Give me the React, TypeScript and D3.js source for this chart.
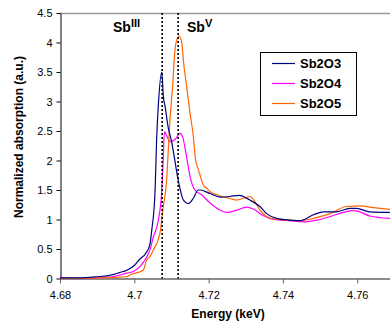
import React, { useEffect, useRef } from 'react';
import * as d3 from 'd3';

// energy (keV) / normalized absorption
const sb2o3E = [4.68, 4.685, 4.69, 4.693, 4.696, 4.698, 4.7, 4.7015, 4.703, 4.7042, 4.7047, 4.7056, 4.706, 4.7065, 4.7074, 4.7078, 4.7083, 4.7091, 4.7101, 4.7106, 4.7118, 4.7132, 4.7145, 4.7159, 4.7172, 4.7177, 4.7204, 4.7231, 4.7257, 4.7282, 4.7311, 4.7338, 4.7356, 4.7383, 4.7419, 4.7446, 4.7482, 4.7509, 4.7545, 4.758, 4.7598, 4.7634, 4.7688];
const sb2o3Y = [0.01, 0.01, 0.03, 0.05, 0.1, 0.14, 0.22, 0.33, 0.42, 0.58, 0.82, 1.5, 2.35, 2.97, 3.5, 3.1, 2.91, 2.57, 2.3, 2.12, 1.67, 1.33, 1.27, 1.36, 1.5, 1.5, 1.44, 1.38, 1.39, 1.41, 1.33, 1.22, 1.1, 1.02, 0.99, 0.98, 1.08, 1.13, 1.13, 1.19, 1.19, 1.13, 1.12];

const sb2o4E = [4.68, 4.6805, 4.685, 4.69, 4.694, 4.6979, 4.6997, 4.7015, 4.7033, 4.7042, 4.7051, 4.7065, 4.7074, 4.7078, 4.7081, 4.7087, 4.7096, 4.711, 4.7123, 4.713, 4.7136, 4.7145, 4.715, 4.7163, 4.7181, 4.7204, 4.7231, 4.7249, 4.7276, 4.7302, 4.7325, 4.7343, 4.7365, 4.7392, 4.7419, 4.7455, 4.7491, 4.7527, 4.7562, 4.7589, 4.7607, 4.7634, 4.7688];
const sb2o4Y = [0.03, 0.01, 0.0, 0.01, 0.03, 0.09, 0.12, 0.2, 0.36, 0.48, 0.7, 1.0, 1.5, 2.06, 2.49, 2.42, 2.32, 2.36, 2.46, 2.4, 2.23, 1.9, 1.73, 1.5, 1.42, 1.28, 1.16, 1.12, 1.16, 1.21, 1.16, 1.08, 1.02, 0.99, 0.98, 0.96, 0.99, 1.05, 1.12, 1.15, 1.13, 1.06, 1.02];

const sb2o5E = [4.68, 4.69, 4.695, 4.6979, 4.6988, 4.7024, 4.7033, 4.7042, 4.7051, 4.7069, 4.7078, 4.7087, 4.7091, 4.7096, 4.7103, 4.7109, 4.7114, 4.7121, 4.7128, 4.7132, 4.7141, 4.715, 4.7159, 4.7164, 4.7172, 4.7177, 4.7186, 4.7195, 4.7204, 4.7222, 4.7249, 4.7276, 4.7311, 4.7325, 4.7338, 4.7356, 4.7383, 4.7419, 4.7446, 4.7482, 4.7527, 4.7571, 4.7607, 4.7643, 4.7688];
const sb2o5Y = [0.0, 0.01, 0.02, 0.03, 0.06, 0.14, 0.31, 0.37, 0.48, 0.77, 1.22, 1.67, 2.12, 2.69, 3.25, 3.84, 4.04, 4.11, 3.99, 3.7, 3.25, 2.8, 2.4, 2.05, 1.85, 1.75, 1.58, 1.53, 1.47, 1.42, 1.37, 1.33, 1.39, 1.3, 1.16, 1.05, 1.0, 0.99, 0.98, 1.02, 1.1, 1.22, 1.23, 1.2, 1.17];

const seriesNames = ['Sb2O3', 'Sb2O4', 'Sb2O5'];
const seriesColors = ['#000080', '#FF00FF', '#FF6600'];
const xTicks = [4.68, 4.7, 4.72, 4.74, 4.76];
const yTicks = [0, 0.5, 1, 1.5, 2, 2.5, 3, 3.5, 4, 4.5];
const edgeLines = [4.7075, 4.7118]; // Sb(III) and Sb(V) edge markers

function App() {
  const svgRef = useRef(null);

  useEffect(() => {
    const svg = d3.select(svgRef.current);
    svg.selectAll('*').remove();
    const font = 'Liberation Sans, Arial, sans-serif';

    const x = d3.scaleLinear().domain([4.68, 4.77]).range([60, 394.4]);
    const y = d3.scaleLinear().domain([0, 4.5]).range([278.5, 13]);

    svg.append('defs').append('clipPath').attr('id', 'plotclip')
      .append('rect').attr('x', 60).attr('y', 0).attr('width', 340).attr('height', 279);

    // top border of plot area
    svg.append('line')
      .attr('x1', 60).attr('x2', 390).attr('y1', 13.5).attr('y2', 13.5)
      .attr('stroke', '#999').attr('stroke-width', 1.5);

    // x axis
    const xAxis = svg.append('g')
      .attr('transform', 'translate(0,278.5)')
      .call(d3.axisBottom(x).tickValues(xTicks).tickSize(5).tickSizeOuter(0).tickFormat(d => String(+d)));
    xAxis.select('.domain').attr('stroke', '#666').attr('stroke-width', 1.5);
    xAxis.selectAll('.tick line').attr('stroke', '#666');
    xAxis.selectAll('text').attr('font-family', font).attr('font-size', 11).attr('fill', '#000').attr('dy', '1.1em');

    // y axis
    const yAxis = svg.append('g')
      .attr('transform', 'translate(60.5,0)')
      .call(d3.axisLeft(y).tickValues(yTicks).tickSize(4).tickSizeOuter(0).tickFormat(d => String(+d)));
    yAxis.select('.domain').attr('stroke', '#000').attr('stroke-width', 1);
    yAxis.selectAll('.tick line').attr('stroke', '#000');
    yAxis.selectAll('text').attr('font-family', font).attr('font-size', 11).attr('fill', '#000').attr('x', -8);

    const g = svg.append('g').attr('clip-path', 'url(#plotclip)');

    const sets = [
      sb2o3E.map((e, i) => [e, sb2o3Y[i]]),
      sb2o4E.map((e, i) => [e, sb2o4Y[i]]),
      sb2o5E.map((e, i) => [e, sb2o5Y[i]]),
    ];
    const line = d3.line().x(d => x(d[0])).y(d => y(d[1])).curve(d3.curveMonotoneX);

    [1, 2, 0].forEach(i => {
      g.append('path')
        .attr('d', line(sets[i]))
        .attr('fill', 'none')
        .attr('stroke', seriesColors[i])
        .attr('stroke-width', 1.2);
    });

    // dotted edge markers
    edgeLines.forEach(e => {
      svg.append('line')
        .attr('x1', x(e)).attr('x2', x(e))
        .attr('y1', y(4.5)).attr('y2', y(0))
        .attr('stroke', '#000').attr('stroke-width', 1.6)
        .attr('stroke-dasharray', '2,2');
    });

    // Sb labels
    const lab1 = svg.append('text').attr('x', 113).attr('y', 32)
      .attr('font-family', font).attr('font-weight', 'bold').attr('font-size', 14);
    lab1.append('tspan').text('Sb');
    lab1.append('tspan').attr('dy', -5).attr('font-size', 11).text('III');
    const lab2 = svg.append('text').attr('x', 187).attr('y', 32)
      .attr('font-family', font).attr('font-weight', 'bold').attr('font-size', 14);
    lab2.append('tspan').text('Sb');
    lab2.append('tspan').attr('dy', -5).attr('font-size', 11).text('V');

    // legend
    const lg = svg.append('g').attr('transform', 'translate(260,52)');
    lg.append('rect').attr('x', 0.5).attr('y', 0.5).attr('width', 96).attr('height', 63)
      .attr('fill', '#fff').attr('stroke', '#000').attr('stroke-width', 1);
    seriesNames.forEach((name, i) => {
      const yy = 11.5 + i * 20;
      lg.append('line').attr('x1', 12).attr('x2', 35).attr('y1', yy).attr('y2', yy)
        .attr('stroke', seriesColors[i]).attr('stroke-width', 1.2);
      lg.append('text').attr('x', 40).attr('y', yy + 4.5)
        .attr('font-family', font).attr('font-weight', 'bold').attr('font-size', 13)
        .text(name);
    });

    // axis titles
    svg.append('text')
      .attr('x', 228).attr('y', 318)
      .attr('text-anchor', 'middle')
      .attr('font-family', font).attr('font-weight', 'bold').attr('font-size', 12)
      .text('Energy (keV)');
    svg.append('text')
      .attr('transform', 'translate(23,137) rotate(-90)')
      .attr('text-anchor', 'middle')
      .attr('font-family', font).attr('font-weight', 'bold').attr('font-size', 12)
      .text('Normalized absorption (a.u.)');
  }, []);

  return (
    <svg ref={svgRef} width={390} height={328}
      style={{ position: 'absolute', left: 0, top: 0, background: '#fff' }} />
  );
}

export default App;
